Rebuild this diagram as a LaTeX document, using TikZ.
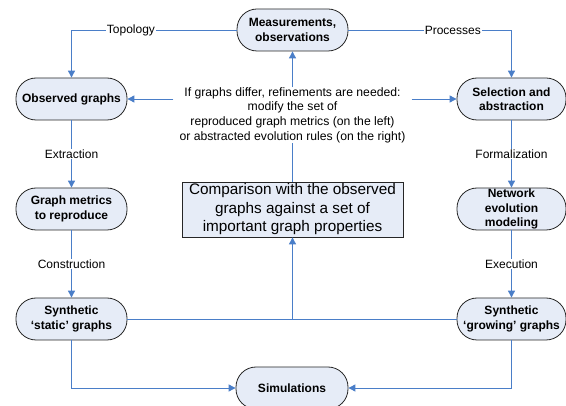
\documentclass[tikz,border=0pt]{standalone}
\usepackage{fontspec}
\setmainfont{Liberation Sans}
\usetikzlibrary{arrows.meta}
\definecolor{azul}{RGB}{74,126,200}
\definecolor{fundo}{RGB}{230,236,247}
\tikzset{
 etapa/.style={draw=black!85, line width=0.8pt, fill=fundo, rounded corners=20pt,
  minimum width=111pt, minimum height=42pt, inner sep=0pt, align=center,
  font=\bfseries\fontsize{12}{14.5}\selectfont},
 seta/.style={draw=azul, line width=0.9pt, -{Triangle[length=7pt,width=7pt]}},
 linha/.style={draw=azul, line width=0.9pt},
 rotulo/.style={fill=white, inner sep=1pt, font=\fontsize{12}{14}\selectfont}
}
\begin{document}
\begin{tikzpicture}[x=1pt,y=-1pt]
\useasboundingbox (0,0) rectangle (566,406);
%etapas (nós arredondados)
 \node[etapa] (meas) at (292.5,30) {Measurements,\\observations};
 \node[etapa] (obs) at (71.5,99) {Observed graphs};
 \node[etapa,minimum width=109pt] (sel) at (511.5,99) {Selection and\\abstraction};
 \node[etapa] (met) at (71.5,209) {Graph metrics\\to reproduce};
 \node[etapa,minimum width=109pt] (net) at (511.5,209) {Network\\evolution\\modeling};
 \node[etapa] (stat) at (71.5,319) {Synthetic\\‘static’ graphs};
 \node[etapa,minimum width=109pt] (grow) at (511.5,319) {Synthetic\\‘growing’ graphs};
 \node[etapa,minimum width=112pt] (sim) at (292,388) {Simulations};
%caixa de comparação
 \node[draw=black!85, line width=0.8pt, fill=fundo, minimum width=221pt, minimum height=55pt,
  inner sep=0pt, align=center, font=\fontsize{15.3}{18.5}\selectfont] (cmp) at (292.5,209.5)
  {Comparison with the observed\\graphs against a set of\\important graph properties};
%texto do meio
 \node[align=center, inner xsep=6pt, inner ysep=0pt, font=\fontsize{12.2}{14.7}\selectfont] (info) at (292.5,115)
  {If graphs differ, refinements are needed:\\modify the set of\\reproduced graph metrics (on the left)\\or abstracted evolution rules (on the right)};
%setas de cima
 \draw[seta] (meas.west) -- node[rotulo,pos=0.64]{Topology} (obs.north |- meas.west) -- (obs.north);
 \draw[seta] (meas.east) -- node[rotulo,pos=0.64]{Processes} (sel.north |- meas.east) -- (sel.north);
%colunas
 \draw[seta] (obs) -- node[rotulo]{Extraction} (met);
 \draw[seta] (met) -- node[rotulo]{Construction} (stat);
 \draw[seta] (sel) -- node[rotulo]{Formalization} (net);
 \draw[seta] (net) -- node[rotulo]{Execution} (grow);
%realimentação pelo centro
 \draw[linha] (stat) -- (grow);
 \draw[seta] (cmp.south |- stat.east) -- (cmp.south);
 \draw[linha] (cmp) -- (info);
 \draw[seta] (info) -- (meas);
 \draw[seta] (info.west |- obs.east) -- (obs.east);
 \draw[seta] (info.east |- sel.west) -- (sel.west);
%simulações
 \draw[seta] (stat.south) |- (sim.west);
 \draw[seta] (grow.south) |- (sim.east);
\end{tikzpicture}
\end{document}
